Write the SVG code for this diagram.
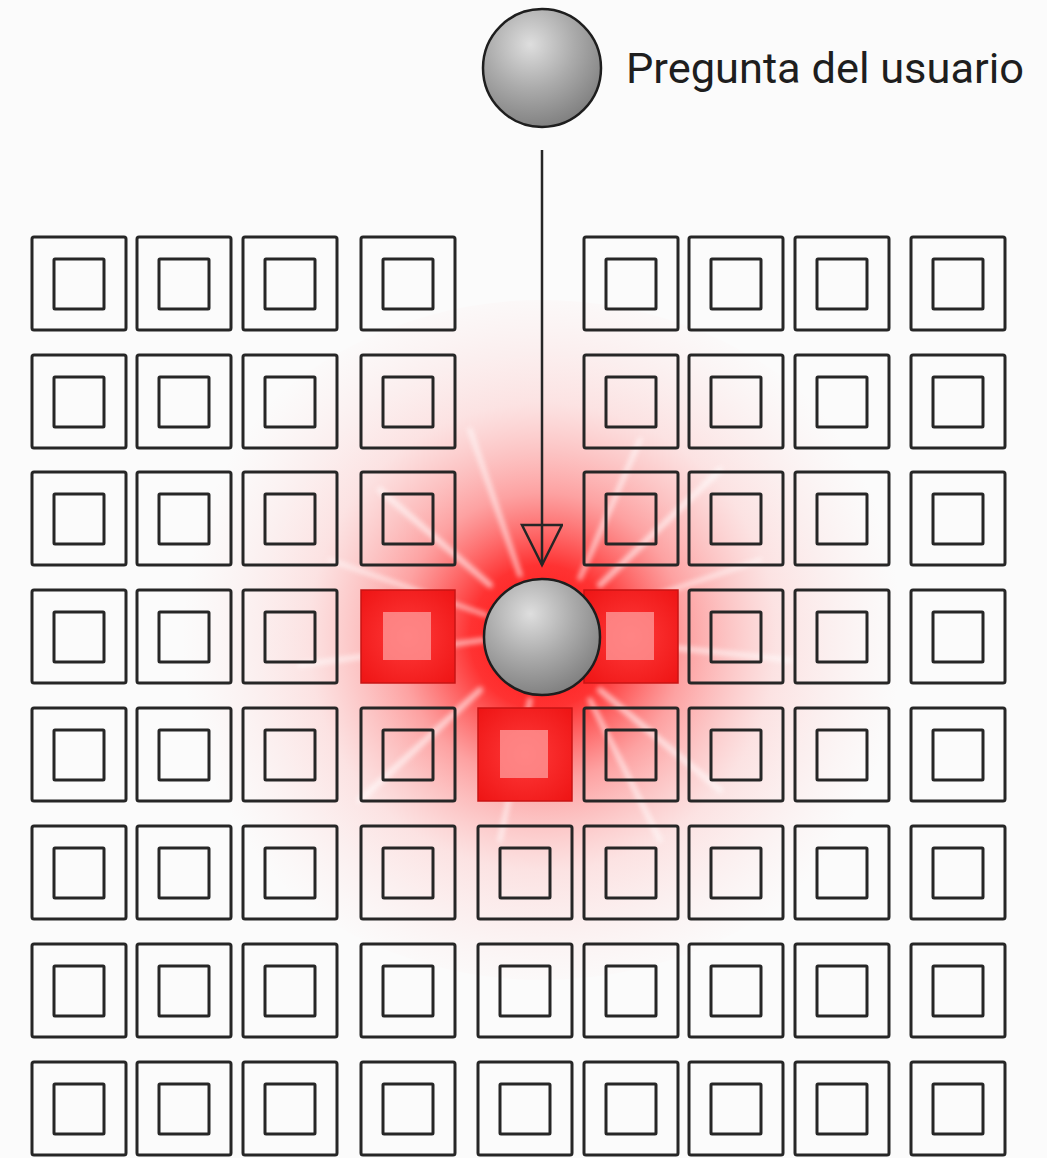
<svg xmlns="http://www.w3.org/2000/svg" width="1047" height="1158" viewBox="0 0 1047 1158">
<style>
.o{fill:none;stroke:#262626;stroke-width:3;}
.i{fill:none;stroke:#262626;stroke-width:3;}
.ho{fill:url(#hot);stroke:#c81414;stroke-width:1.5;}
.hi{fill:#ff9e9e;fill-opacity:0.75;stroke:none;}
.ray{stroke:#ffffff;stroke-linecap:round;}
.lbl{font-family:Roboto,"Liberation Sans",sans-serif;font-size:42px;fill:#1e1e1e;}
.sph{fill:url(#sphere);stroke:#1e1e1e;stroke-width:2.5;}
</style>
<defs>
<radialGradient id="glow" cx="542" cy="637" r="360" gradientUnits="userSpaceOnUse">
<stop offset="0" stop-color="#ff1010" stop-opacity="1"/>
<stop offset="0.2" stop-color="#ff1c1c" stop-opacity="0.9"/>
<stop offset="0.4" stop-color="#ff4848" stop-opacity="0.5"/>
<stop offset="0.65" stop-color="#ff8080" stop-opacity="0.2"/>
<stop offset="1" stop-color="#ffb0b0" stop-opacity="0"/>
</radialGradient>
<radialGradient id="hot" cx="0.5" cy="0.5" r="0.7">
<stop offset="0" stop-color="#ff3a3a"/>
<stop offset="1" stop-color="#ee1414"/>
</radialGradient>
<radialGradient id="sphere" cx="0.4" cy="0.3" r="0.75">
<stop offset="0" stop-color="#dedede"/>
<stop offset="0.5" stop-color="#ababab"/>
<stop offset="1" stop-color="#7c7c7c"/>
</radialGradient>
<filter id="soft" x="-20%" y="-20%" width="140%" height="140%">
<feGaussianBlur stdDeviation="2.5"/>
</filter>
<marker id="arr" markerUnits="userSpaceOnUse" markerWidth="48" markerHeight="48" refX="42" refY="21" orient="auto">
<path d="M2,1 L42,21 L2,41 Z" fill="none" stroke="#262626" stroke-width="2.5"/>
</marker>
</defs>
<rect width="1047" height="1158" fill="#fbfbfb"/>
<g id="glow-area">
<ellipse cx="542" cy="640" rx="380" ry="340" fill="url(#glow)"/>
<g opacity="0.6" filter="url(#soft)">
<line class="ray" x1="490" y1="585" x2="380" y2="490" stroke-width="6"/>
<line class="ray" x1="600" y1="585" x2="720" y2="470" stroke-width="6"/>
<line class="ray" x1="480" y1="690" x2="360" y2="800" stroke-width="6"/>
<line class="ray" x1="600" y1="690" x2="720" y2="790" stroke-width="6"/>
<line class="ray" x1="520" y1="575" x2="470" y2="430" stroke-width="5"/>
<line class="ray" x1="580" y1="578" x2="640" y2="440" stroke-width="5"/>
<line class="ray" x1="530" y1="700" x2="500" y2="840" stroke-width="5"/>
<line class="ray" x1="600" y1="640" x2="790" y2="660" stroke-width="5"/>
<line class="ray" x1="484" y1="640" x2="300" y2="665" stroke-width="5"/>
<line class="ray" x1="590" y1="700" x2="660" y2="840" stroke-width="5"/>
<line class="ray" x1="486" y1="615" x2="330" y2="560" stroke-width="4"/>
<line class="ray" x1="598" y1="615" x2="760" y2="560" stroke-width="4"/>
</g>
</g>
<g id="grid">
<g id="r1">
<g id="c1-1"><rect class="o" x="32" y="237" width="94" height="93" rx="2"/><rect class="i" x="54" y="259" width="50" height="50" rx="1"/></g>
<g id="c1-2"><rect class="o" x="137" y="237" width="94" height="93" rx="2"/><rect class="i" x="159" y="259" width="50" height="50" rx="1"/></g>
<g id="c1-3"><rect class="o" x="243" y="237" width="94" height="93" rx="2"/><rect class="i" x="265" y="259" width="50" height="50" rx="1"/></g>
<g id="c1-4"><rect class="o" x="361" y="237" width="94" height="93" rx="2"/><rect class="i" x="383" y="259" width="50" height="50" rx="1"/></g>
<g id="c1-6"><rect class="o" x="584" y="237" width="94" height="93" rx="2"/><rect class="i" x="606" y="259" width="50" height="50" rx="1"/></g>
<g id="c1-7"><rect class="o" x="689" y="237" width="94" height="93" rx="2"/><rect class="i" x="711" y="259" width="50" height="50" rx="1"/></g>
<g id="c1-8"><rect class="o" x="795" y="237" width="94" height="93" rx="2"/><rect class="i" x="817" y="259" width="50" height="50" rx="1"/></g>
<g id="c1-9"><rect class="o" x="911" y="237" width="94" height="93" rx="2"/><rect class="i" x="933" y="259" width="50" height="50" rx="1"/></g>
</g>
<g id="r2">
<g id="c2-1"><rect class="o" x="32" y="355" width="94" height="93" rx="2"/><rect class="i" x="54" y="377" width="50" height="50" rx="1"/></g>
<g id="c2-2"><rect class="o" x="137" y="355" width="94" height="93" rx="2"/><rect class="i" x="159" y="377" width="50" height="50" rx="1"/></g>
<g id="c2-3"><rect class="o" x="243" y="355" width="94" height="93" rx="2"/><rect class="i" x="265" y="377" width="50" height="50" rx="1"/></g>
<g id="c2-4"><rect class="o" x="361" y="355" width="94" height="93" rx="2"/><rect class="i" x="383" y="377" width="50" height="50" rx="1"/></g>
<g id="c2-6"><rect class="o" x="584" y="355" width="94" height="93" rx="2"/><rect class="i" x="606" y="377" width="50" height="50" rx="1"/></g>
<g id="c2-7"><rect class="o" x="689" y="355" width="94" height="93" rx="2"/><rect class="i" x="711" y="377" width="50" height="50" rx="1"/></g>
<g id="c2-8"><rect class="o" x="795" y="355" width="94" height="93" rx="2"/><rect class="i" x="817" y="377" width="50" height="50" rx="1"/></g>
<g id="c2-9"><rect class="o" x="911" y="355" width="94" height="93" rx="2"/><rect class="i" x="933" y="377" width="50" height="50" rx="1"/></g>
</g>
<g id="r3">
<g id="c3-1"><rect class="o" x="32" y="472" width="94" height="93" rx="2"/><rect class="i" x="54" y="494" width="50" height="50" rx="1"/></g>
<g id="c3-2"><rect class="o" x="137" y="472" width="94" height="93" rx="2"/><rect class="i" x="159" y="494" width="50" height="50" rx="1"/></g>
<g id="c3-3"><rect class="o" x="243" y="472" width="94" height="93" rx="2"/><rect class="i" x="265" y="494" width="50" height="50" rx="1"/></g>
<g id="c3-4"><rect class="o" x="361" y="472" width="94" height="93" rx="2"/><rect class="i" x="383" y="494" width="50" height="50" rx="1"/></g>
<g id="c3-6"><rect class="o" x="584" y="472" width="94" height="93" rx="2"/><rect class="i" x="606" y="494" width="50" height="50" rx="1"/></g>
<g id="c3-7"><rect class="o" x="689" y="472" width="94" height="93" rx="2"/><rect class="i" x="711" y="494" width="50" height="50" rx="1"/></g>
<g id="c3-8"><rect class="o" x="795" y="472" width="94" height="93" rx="2"/><rect class="i" x="817" y="494" width="50" height="50" rx="1"/></g>
<g id="c3-9"><rect class="o" x="911" y="472" width="94" height="93" rx="2"/><rect class="i" x="933" y="494" width="50" height="50" rx="1"/></g>
</g>
<g id="r4">
<g id="c4-1"><rect class="o" x="32" y="590" width="94" height="93" rx="2"/><rect class="i" x="54" y="612" width="50" height="50" rx="1"/></g>
<g id="c4-2"><rect class="o" x="137" y="590" width="94" height="93" rx="2"/><rect class="i" x="159" y="612" width="50" height="50" rx="1"/></g>
<g id="c4-3"><rect class="o" x="243" y="590" width="94" height="93" rx="2"/><rect class="i" x="265" y="612" width="50" height="50" rx="1"/></g>
<g id="c4-4"><rect class="ho" x="361" y="590" width="94" height="93"/><rect class="hi" x="383" y="612" width="48" height="48"/></g>
<g id="c4-6"><rect class="ho" x="584" y="590" width="94" height="93"/><rect class="hi" x="606" y="612" width="48" height="48"/></g>
<g id="c4-7"><rect class="o" x="689" y="590" width="94" height="93" rx="2"/><rect class="i" x="711" y="612" width="50" height="50" rx="1"/></g>
<g id="c4-8"><rect class="o" x="795" y="590" width="94" height="93" rx="2"/><rect class="i" x="817" y="612" width="50" height="50" rx="1"/></g>
<g id="c4-9"><rect class="o" x="911" y="590" width="94" height="93" rx="2"/><rect class="i" x="933" y="612" width="50" height="50" rx="1"/></g>
</g>
<g id="r5">
<g id="c5-1"><rect class="o" x="32" y="708" width="94" height="93" rx="2"/><rect class="i" x="54" y="730" width="50" height="50" rx="1"/></g>
<g id="c5-2"><rect class="o" x="137" y="708" width="94" height="93" rx="2"/><rect class="i" x="159" y="730" width="50" height="50" rx="1"/></g>
<g id="c5-3"><rect class="o" x="243" y="708" width="94" height="93" rx="2"/><rect class="i" x="265" y="730" width="50" height="50" rx="1"/></g>
<g id="c5-4"><rect class="o" x="361" y="708" width="94" height="93" rx="2"/><rect class="i" x="383" y="730" width="50" height="50" rx="1"/></g>
<g id="c5-5"><rect class="ho" x="478" y="708" width="94" height="93"/><rect class="hi" x="500" y="730" width="48" height="48"/></g>
<g id="c5-6"><rect class="o" x="584" y="708" width="94" height="93" rx="2"/><rect class="i" x="606" y="730" width="50" height="50" rx="1"/></g>
<g id="c5-7"><rect class="o" x="689" y="708" width="94" height="93" rx="2"/><rect class="i" x="711" y="730" width="50" height="50" rx="1"/></g>
<g id="c5-8"><rect class="o" x="795" y="708" width="94" height="93" rx="2"/><rect class="i" x="817" y="730" width="50" height="50" rx="1"/></g>
<g id="c5-9"><rect class="o" x="911" y="708" width="94" height="93" rx="2"/><rect class="i" x="933" y="730" width="50" height="50" rx="1"/></g>
</g>
<g id="r6">
<g id="c6-1"><rect class="o" x="32" y="826" width="94" height="93" rx="2"/><rect class="i" x="54" y="848" width="50" height="50" rx="1"/></g>
<g id="c6-2"><rect class="o" x="137" y="826" width="94" height="93" rx="2"/><rect class="i" x="159" y="848" width="50" height="50" rx="1"/></g>
<g id="c6-3"><rect class="o" x="243" y="826" width="94" height="93" rx="2"/><rect class="i" x="265" y="848" width="50" height="50" rx="1"/></g>
<g id="c6-4"><rect class="o" x="361" y="826" width="94" height="93" rx="2"/><rect class="i" x="383" y="848" width="50" height="50" rx="1"/></g>
<g id="c6-5"><rect class="o" x="478" y="826" width="94" height="93" rx="2"/><rect class="i" x="500" y="848" width="50" height="50" rx="1"/></g>
<g id="c6-6"><rect class="o" x="584" y="826" width="94" height="93" rx="2"/><rect class="i" x="606" y="848" width="50" height="50" rx="1"/></g>
<g id="c6-7"><rect class="o" x="689" y="826" width="94" height="93" rx="2"/><rect class="i" x="711" y="848" width="50" height="50" rx="1"/></g>
<g id="c6-8"><rect class="o" x="795" y="826" width="94" height="93" rx="2"/><rect class="i" x="817" y="848" width="50" height="50" rx="1"/></g>
<g id="c6-9"><rect class="o" x="911" y="826" width="94" height="93" rx="2"/><rect class="i" x="933" y="848" width="50" height="50" rx="1"/></g>
</g>
<g id="r7">
<g id="c7-1"><rect class="o" x="32" y="944" width="94" height="93" rx="2"/><rect class="i" x="54" y="966" width="50" height="50" rx="1"/></g>
<g id="c7-2"><rect class="o" x="137" y="944" width="94" height="93" rx="2"/><rect class="i" x="159" y="966" width="50" height="50" rx="1"/></g>
<g id="c7-3"><rect class="o" x="243" y="944" width="94" height="93" rx="2"/><rect class="i" x="265" y="966" width="50" height="50" rx="1"/></g>
<g id="c7-4"><rect class="o" x="361" y="944" width="94" height="93" rx="2"/><rect class="i" x="383" y="966" width="50" height="50" rx="1"/></g>
<g id="c7-5"><rect class="o" x="478" y="944" width="94" height="93" rx="2"/><rect class="i" x="500" y="966" width="50" height="50" rx="1"/></g>
<g id="c7-6"><rect class="o" x="584" y="944" width="94" height="93" rx="2"/><rect class="i" x="606" y="966" width="50" height="50" rx="1"/></g>
<g id="c7-7"><rect class="o" x="689" y="944" width="94" height="93" rx="2"/><rect class="i" x="711" y="966" width="50" height="50" rx="1"/></g>
<g id="c7-8"><rect class="o" x="795" y="944" width="94" height="93" rx="2"/><rect class="i" x="817" y="966" width="50" height="50" rx="1"/></g>
<g id="c7-9"><rect class="o" x="911" y="944" width="94" height="93" rx="2"/><rect class="i" x="933" y="966" width="50" height="50" rx="1"/></g>
</g>
<g id="r8">
<g id="c8-1"><rect class="o" x="32" y="1062" width="94" height="93" rx="2"/><rect class="i" x="54" y="1084" width="50" height="50" rx="1"/></g>
<g id="c8-2"><rect class="o" x="137" y="1062" width="94" height="93" rx="2"/><rect class="i" x="159" y="1084" width="50" height="50" rx="1"/></g>
<g id="c8-3"><rect class="o" x="243" y="1062" width="94" height="93" rx="2"/><rect class="i" x="265" y="1084" width="50" height="50" rx="1"/></g>
<g id="c8-4"><rect class="o" x="361" y="1062" width="94" height="93" rx="2"/><rect class="i" x="383" y="1084" width="50" height="50" rx="1"/></g>
<g id="c8-5"><rect class="o" x="478" y="1062" width="94" height="93" rx="2"/><rect class="i" x="500" y="1084" width="50" height="50" rx="1"/></g>
<g id="c8-6"><rect class="o" x="584" y="1062" width="94" height="93" rx="2"/><rect class="i" x="606" y="1084" width="50" height="50" rx="1"/></g>
<g id="c8-7"><rect class="o" x="689" y="1062" width="94" height="93" rx="2"/><rect class="i" x="711" y="1084" width="50" height="50" rx="1"/></g>
<g id="c8-8"><rect class="o" x="795" y="1062" width="94" height="93" rx="2"/><rect class="i" x="817" y="1084" width="50" height="50" rx="1"/></g>
<g id="c8-9"><rect class="o" x="911" y="1062" width="94" height="93" rx="2"/><rect class="i" x="933" y="1084" width="50" height="50" rx="1"/></g>
</g>
</g>
<g id="connectors">
<line x1="542" y1="150" x2="542" y2="565" stroke="#262626" stroke-width="2.5" marker-end="url(#arr)"/>
</g>
<g id="query">
<circle class="sph" cx="542" cy="68" r="59"/>
<text class="lbl" x="626" y="83" textLength="398" lengthAdjust="spacingAndGlyphs">Pregunta del usuario</text>
</g>
<g id="match">
<circle class="sph" cx="542" cy="637" r="58"/>
</g>
</svg>
